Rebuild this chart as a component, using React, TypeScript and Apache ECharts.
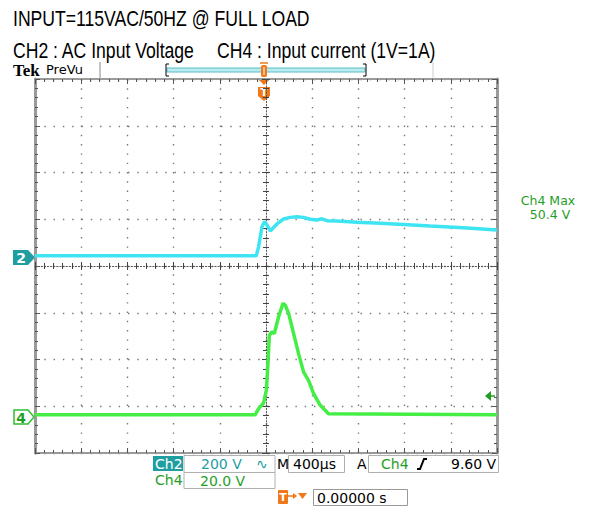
import React, { useEffect, useRef } from "react";
import * as echarts from "echarts";

// ---- Data (time in µs, values in volts) ----
const timeMin = -2000;
const timeMax = 2000;
const timePerDiv = 400; // M 400µs
const divMin = -4;
const divMax = 4;

const ch2Scale = 200; // V/div
const ch2Offset = 0.22; // divisions
const ch2Time = [-2000, -84, -64, -35, -12, 3, 37, 95, 152, 210, 268, 325, 383, 441, 484, 527, 614, 787, 988, 1190, 1421, 1709, 2000];
const ch2Volts = [0, 0, 38, 124, 146, 136, 106, 136, 157, 164, 167, 164, 156, 153, 158, 150, 149, 143, 139, 134, 127, 120, 110];

const ch4Scale = 20; // V/div
const ch4Offset = -3.18; // divisions
const ch4Time = [-2000, -93, -64, -21, 3, 17, 29, 52, 72, 109, 147, 167, 196, 239, 282, 325, 368, 412, 470, 541, 2000];
const ch4Volts = [0, 0, 2.6, 5, 10.4, 22, 34, 35.4, 34.7, 41.9, 47.6, 46.8, 43.3, 34.7, 26.1, 18.3, 14.7, 9, 4, 0.4, 0];

const titleLine1 = "INPUT=115VAC/50HZ @ FULL LOAD";
const titleLine2a = "CH2 : AC Input Voltage";
const titleLine2b = "CH4 : Input current (1V=1A)";
const ch4MaxLabel = ["Ch4 Max", "50.4 V"];
const ch2ScaleLabel = "200 V";
const ch4ScaleLabel = "20.0 V";
const timebaseLabel = "400µs";
const triggerLevelLabel = "9.60 V";
const triggerPosLabel = "0.00000 s";

const CYAN = "#3fe4f2";
const GREEN = "#45ee45";
const TEAL = "#1f9ea2";
const DGREEN = "#1f9e1f";
const ORANGE = "#f07818";
const SANS = "DejaVu Sans";
const TITLE_FONT = '22px "Liberation Sans", Arial, sans-serif';

export default function App() {
  const ref = useRef<HTMLDivElement>(null);
  useEffect(() => {
    if (!ref.current) return;
    const chart = echarts.init(ref.current, null, { renderer: "svg" });

    const ch2Data = ch2Time.map((t, i) => [t, ch2Offset + ch2Volts[i] / ch2Scale]);
    const ch4Data = ch4Time.map((t, i) => [t, ch4Offset + ch4Volts[i] / ch4Scale]);

    const frameTick = { show: true, inside: true, length: 5, lineStyle: { color: "#555", width: 1 } };
    const frameMinor = { show: true, splitNumber: 5, length: 3, lineStyle: { color: "#555", width: 1 } };
    const centerTickIn = { show: true, inside: true, length: 4, lineStyle: { color: "#444", width: 1 } };
    const centerTickOut = { show: true, inside: false, length: 4, lineStyle: { color: "#444", width: 1 } };
    const centerMinorIn = { show: true, splitNumber: 5, length: 3, lineStyle: { color: "#444", width: 1 } };
    const noLabel = { show: false };
    const dotted = { show: true, lineStyle: { color: "#777", width: 1.4, type: [1.4, 7.9] } };

    const xBase = { type: "value", min: timeMin, max: timeMax, interval: timePerDiv, gridIndex: 0, axisLabel: noLabel };
    const yBase = { type: "value", min: divMin, max: divMax, interval: 1, gridIndex: 0, axisLabel: noLabel };

    const centerLine = { color: "#555", width: 1, type: [1.3, 1.8] };

    const txt = (x: number, y: number, text: string, fill: string, size = 14, extra: any = {}) => ({
      type: "text",
      x,
      y,
      style: { text, fill, font: `${size}px "${SANS}"`, textVerticalAlign: "middle", ...extra },
    });
    const title = (x: number, y: number, text: string) => ({
      type: "text",
      x,
      y,
      scaleX: 0.8,
      style: { text, fill: "#000", font: TITLE_FONT, textVerticalAlign: "middle" },
    });

    chart.setOption({
      animation: false,
      backgroundColor: "#ffffff",
      grid: { left: 35, top: 79, width: 462, height: 374, containLabel: false },
      xAxis: [
        { ...xBase, position: "bottom", axisLine: { onZero: false, lineStyle: { color: "#9a9a9a", width: 2 } }, axisTick: frameTick, minorTick: frameMinor, splitLine: dotted },
        { ...xBase, position: "top", axisLine: { onZero: false, lineStyle: { color: "#9a9a9a", width: 2 } }, axisTick: frameTick, minorTick: frameMinor, splitLine: { show: false } },
        { ...xBase, position: "bottom", axisLine: { onZero: true, onZeroAxisIndex: 0, lineStyle: centerLine }, axisTick: centerTickIn, minorTick: centerMinorIn, splitLine: { show: false } },
        { ...xBase, position: "bottom", axisLine: { onZero: true, onZeroAxisIndex: 0, lineStyle: { ...centerLine, opacity: 0 } }, axisTick: centerTickOut, minorTick: centerMinorIn, splitLine: { show: false } },
      ],
      yAxis: [
        { ...yBase, position: "left", axisLine: { onZero: false, lineStyle: { color: "#9a9a9a", width: 3 } }, axisTick: frameTick, minorTick: frameMinor, splitLine: dotted },
        { ...yBase, position: "right", axisLine: { onZero: false, lineStyle: { color: "#9a9a9a", width: 3 } }, axisTick: frameTick, minorTick: frameMinor, splitLine: { show: false } },
        { ...yBase, position: "left", axisLine: { onZero: true, onZeroAxisIndex: 0, lineStyle: centerLine }, axisTick: centerTickIn, minorTick: centerMinorIn, splitLine: { show: false } },
        { ...yBase, position: "left", axisLine: { onZero: true, onZeroAxisIndex: 0, lineStyle: { ...centerLine, opacity: 0 } }, axisTick: centerTickOut, minorTick: centerMinorIn, splitLine: { show: false } },
      ],
      series: [
        { name: "CH2", type: "line", xAxisIndex: 0, yAxisIndex: 0, data: ch2Data, showSymbol: false, symbol: "none", lineStyle: { color: CYAN, width: 3.5 }, z: 5 },
        { name: "CH4", type: "line", xAxisIndex: 0, yAxisIndex: 0, data: ch4Data, showSymbol: false, symbol: "none", lineStyle: { color: GREEN, width: 3.5 }, z: 5 },
      ],
      graphic: [
        // Titles
        title(13, 18, titleLine1),
        title(13, 50, titleLine2a),
        title(217, 50, titleLine2b),
        // Tek PreVu
        { type: "text", x: 13, y: 70, style: { text: "Tek", fill: "#000", font: 'bold 17px "Liberation Serif", serif', textVerticalAlign: "middle" } },
        txt(46, 69, "PreVu", "#000", 13),
        // Preview bar
        { type: "line", shape: { x1: 100, y1: 62, x2: 100, y2: 78 }, style: { stroke: "#888", lineWidth: 1 } },
        { type: "line", shape: { x1: 433, y1: 62, x2: 433, y2: 78 }, style: { stroke: "#ccc", lineWidth: 1 } },
        { type: "rect", shape: { x: 167, y: 68, width: 198, height: 4 }, style: { fill: "#b9ecef", stroke: "#5cbcc4", lineWidth: 1 } },
        { type: "polyline", shape: { points: [[169, 64], [166, 64], [166, 76], [169, 76]] }, style: { stroke: "#000", lineWidth: 1, fill: null } },
        { type: "polyline", shape: { points: [[363, 64], [366, 64], [366, 76], [363, 76]] }, style: { stroke: "#000", lineWidth: 1, fill: null } },
        { type: "line", shape: { x1: 260, y1: 63, x2: 268, y2: 63 }, style: { stroke: ORANGE, lineWidth: 1.5 } },
        { type: "rect", shape: { x: 261, y: 65, width: 6, height: 12, r: 2 }, style: { fill: ORANGE } },
        { type: "line", shape: { x1: 264, y1: 67, x2: 264, y2: 75 }, style: { stroke: "#fff", lineWidth: 1 } },
        // Trigger position marker below top edge
        { type: "polygon", shape: { points: [[259, 80], [269, 80], [264, 85]] }, style: { fill: ORANGE } },
        { type: "polygon", shape: { points: [[258, 87], [270, 87], [270, 96], [264, 101], [258, 96]] }, style: { fill: ORANGE } },
        { type: "text", x: 264, y: 92, style: { text: "T", fill: "#fff", font: `bold 11px "${SANS}"`, textAlign: "center", textVerticalAlign: "middle" } },
        // Channel markers
        { type: "polygon", shape: { points: [[13, 250], [28, 250], [35, 257.5], [28, 265], [13, 265]] }, style: { fill: TEAL } },
        { type: "text", x: 21, y: 258, style: { text: "2", fill: "#fff", font: `bold 14px "${SANS}"`, textAlign: "center", textVerticalAlign: "middle" } },
        { type: "polygon", shape: { points: [[14, 410], [28, 410], [34, 417], [28, 424], [14, 424]] }, style: { fill: "#fff", stroke: "#2fbf2f", lineWidth: 1.5 } },
        { type: "text", x: 21, y: 417.5, style: { text: "4", fill: DGREEN, font: `bold 14px "${SANS}"`, textAlign: "center", textVerticalAlign: "middle" } },
        // Ch4 Max
        { type: "text", x: 548, y: 200, style: { text: ch4MaxLabel[0], fill: DGREEN, font: `12.5px "${SANS}"`, textAlign: "center", textVerticalAlign: "middle" } },
        { type: "text", x: 550, y: 214, style: { text: ch4MaxLabel[1], fill: DGREEN, font: `12.5px "${SANS}"`, textAlign: "center", textVerticalAlign: "middle" } },
        // Trigger level arrow
        { type: "polygon", shape: { points: [[485, 396], [491, 391], [491, 401]] }, style: { fill: DGREEN } },
        { type: "line", shape: { x1: 490, y1: 396, x2: 495, y2: 396 }, style: { stroke: DGREEN, lineWidth: 1.5 } },
        // Bottom row 1
        { type: "rect", shape: { x: 153, y: 456, width: 30, height: 15 }, style: { fill: TEAL } },
        txt(155, 464, "Ch2", "#fff", 14),
        { type: "rect", shape: { x: 184, y: 455.5, width: 91, height: 17 }, style: { fill: "#fff", stroke: "#b0b0b0", lineWidth: 1 } },
        txt(201, 464, ch2ScaleLabel, TEAL, 14),
        txt(256, 464, "∿", TEAL, 14),
        txt(277, 464, "M", "#000", 14),
        { type: "rect", shape: { x: 288.5, y: 455.5, width: 56, height: 17 }, style: { fill: "#fff", stroke: "#b0b0b0", lineWidth: 1 } },
        txt(293, 464, timebaseLabel, "#000", 14),
        txt(357, 464, "A", "#000", 14),
        { type: "rect", shape: { x: 368.5, y: 455.5, width: 130, height: 17 }, style: { fill: "#fff", stroke: "#b0b0b0", lineWidth: 1 } },
        txt(381, 464, "Ch4", DGREEN, 14),
        { type: "polyline", shape: { points: [[417, 469], [420, 469], [424, 459], [427, 459]] }, style: { stroke: "#000", lineWidth: 2, fill: null } },
        txt(451, 464, triggerLevelLabel, "#000", 14),
        // Bottom row 2
        txt(155, 480, "Ch4", DGREEN, 14),
        { type: "rect", shape: { x: 184, y: 472.5, width: 91, height: 16 }, style: { fill: "#fff", stroke: "#b0b0b0", lineWidth: 1 } },
        txt(200, 480.5, ch4ScaleLabel, DGREEN, 14),
        // Bottom row 3
        { type: "rect", shape: { x: 278, y: 490, width: 10, height: 14, r: 1 }, style: { fill: ORANGE } },
        { type: "text", x: 283, y: 497.5, style: { text: "T", fill: "#fff", font: `bold 11px "${SANS}"`, textAlign: "center", textVerticalAlign: "middle" } },
        { type: "line", shape: { x1: 288, y1: 496, x2: 296, y2: 496 }, style: { stroke: ORANGE, lineWidth: 1.5 } },
        { type: "polygon", shape: { points: [[293, 493], [297, 496], [293, 499]] }, style: { fill: ORANGE } },
        { type: "polygon", shape: { points: [[298, 493], [307, 493], [302.5, 499]] }, style: { fill: ORANGE } },
        { type: "rect", shape: { x: 313.5, y: 489.5, width: 94, height: 16 }, style: { fill: "#fff", stroke: "#999", lineWidth: 1 } },
        txt(317, 497.5, triggerPosLabel, "#000", 14),
      ],
    });
    return () => chart.dispose();
  }, []);
  return <div ref={ref} style={{ position: "absolute", left: 0, top: 0, width: 600, height: 521 }} />;
}
